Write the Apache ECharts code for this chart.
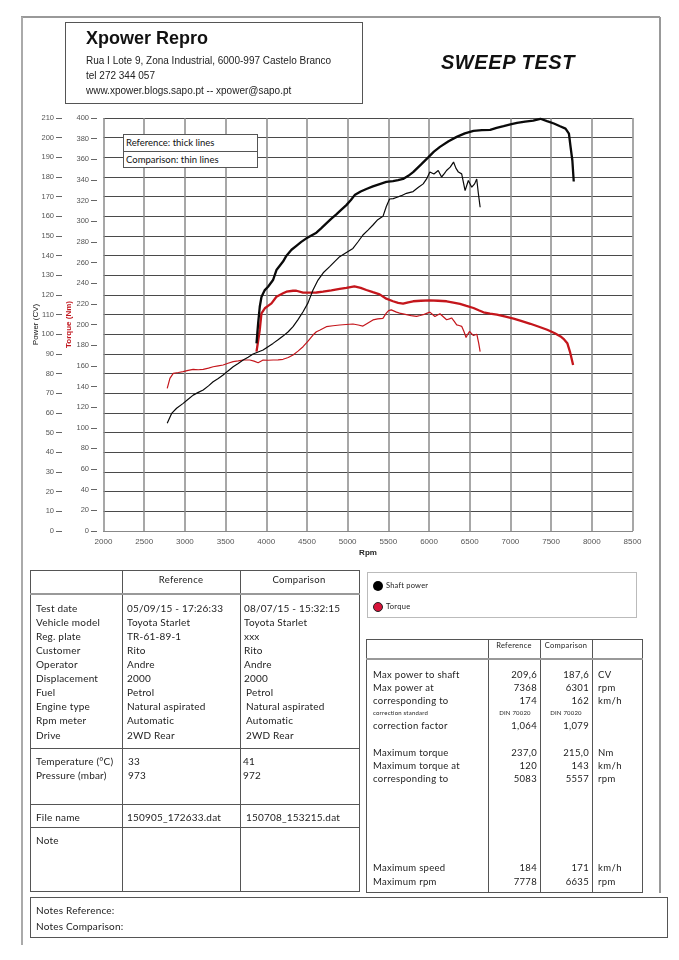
<!DOCTYPE html>
<html><head><meta charset="utf-8">
<script src="https://cdn.jsdelivr.net/npm/echarts@6/dist/echarts.min.js"></script>
<style>
html,body{margin:0;padding:0;background:#fff;}
#page{position:relative;width:679px;height:960px;overflow:hidden;font-family:Lato,"Liberation Sans",sans-serif;color:#222;}
#chart{position:absolute;left:0;top:0;width:679px;height:960px;}
.t{position:absolute;white-space:nowrap;line-height:12px;}
.l{position:absolute;background:#555;}
.box{position:absolute;border:1px solid #555;box-sizing:border-box;background:transparent;}
</style></head>
<body><div id="page"><div id="chart"></div></div>
<script>
// ---------- DATA ----------
const refPowerRpm = [3880,3900,3920,3941,3961,3982,4022,4083,4125,4206,4248,4310,4370,4430,4493,4555,4616,4677,4738,4800,4861,4923,4984,5040,5086,5160,5230,5310,5393,5475,5557,5620,5681,5745,5805,5900,5990,6060,6134,6240,6340,6440,6546,6650,6751,6830,6916,7000,7081,7180,7280,7368,7450,7534,7610,7677,7719,7740,7761,7778];
const refPower    = [95.4,105.6,114,119,120.8,122.5,124.2,127.6,132.7,137,140,143,145,147,148.8,150.3,151.7,154,156.4,158.8,161,163.4,165.7,168.3,170.8,172.6,173.9,175.2,176.4,177.5,177.9,178.4,179,180.6,182.5,186.3,190,192.9,195.3,198.2,200.4,202.2,203.5,203.8,204,205,205.9,206.8,207.5,208.2,208.7,209.6,208.4,207.2,205.8,204.6,202,195,188.4,177.7];

const cmpPowerRpm = [2783,2837,2898,2979,3040,3102,3165,3225,3290,3347,3410,3470,3530,3593,3655,3716,3777,3838,3900,3961,4022,4083,4145,4206,4270,4329,4390,4452,4513,4574,4636,4700,4779,4840,4902,4980,5065,5130,5188,5250,5311,5370,5434,5475,5515,5560,5599,5660,5722,5804,5870,5928,5970,6010,6060,6113,6154,6190,6215,6260,6301,6330,6361,6401,6443,6483,6525,6560,6586,6605,6628];
const cmpPower    = [54.8,59.8,62.4,64.9,67,69.1,70.5,71.7,73.8,75.9,77.6,79.3,81.4,83.5,85.2,86.9,88.4,90,91,92,93.7,95.4,97.2,99.1,101.3,103.9,107.5,111.5,116,122.5,127.6,131.3,134.4,137,139.5,141.5,143.7,147.2,150.5,153,155.6,158.3,160,165,168.8,169,169.6,170.5,171.7,172.6,174.8,176.5,179,182.5,181.5,183.3,180,181.8,183.3,185,187.6,184.5,182.5,181.6,173.1,178.2,174.8,176.5,179,172,164.6];

const refTorqueRpm = [3880,3900,3920,3941,3982,4022,4064,4125,4166,4206,4248,4329,4370,4452,4534,4616,4697,4800,4902,4984,5083,5160,5230,5310,5393,5475,5557,5620,5681,5745,5805,5900,6010,6110,6216,6300,6380,6460,6546,6610,6669,6750,6833,6940,7039,7140,7245,7350,7452,7540,7616,7660,7699,7731,7761,7770];
const refTorque    = [173.7,184,194.7,210.8,215.7,218,220.5,226.9,228.6,230.2,231.8,232.7,232.7,230.8,230.8,231,231.8,233,234.4,235.5,237,235.5,233.4,231.3,229.2,225,222.5,221,220.2,221.5,222.5,223,223.4,223,222.5,221.3,219.9,218,216,213.8,211.8,210.6,209.5,207.6,205.6,203.2,200.7,197.8,194.9,191.8,188.4,185.5,181.9,173.8,164,160.8];

const cmpTorqueRpm = [2783,2816,2857,2920,2979,3040,3102,3165,3225,3290,3347,3410,3470,3530,3593,3655,3716,3798,3850,3900,3961,4022,4083,4145,4206,4270,4329,4390,4452,4513,4574,4616,4656,4738,4820,4902,4980,5065,5130,5188,5250,5311,5370,5433,5475,5503,5536,5557,5600,5638,5680,5722,5780,5846,5890,5928,5970,6010,6040,6072,6100,6134,6175,6216,6250,6277,6310,6340,6370,6401,6430,6455,6475,6497,6520,6546,6587,6610,6628];
const cmpTorque    = [138.2,147.9,152.7,153.5,154.3,155.5,156.6,156.2,156.6,157.8,159.1,160,160.8,162.5,164,164.8,165.6,165.6,164.5,163,165.6,165.4,165.6,165.8,166.3,168,170.5,174.2,178.5,184,189.8,193,194.5,197.9,198.8,199.5,200,200.5,199.5,198.5,201.5,204.4,205.5,206,211,213.5,214.2,215,212,211,210.3,209.5,208.6,207.8,208.7,209.5,210.8,212,210,207.8,209,210.4,207.5,204.6,205.5,206.3,203,199.7,199,198.2,193,187.4,190.5,193.2,191.3,189.3,190.6,182,173.8];

// table texts
const infoLabels = ["Test date","Vehicle model","Reg. plate","Customer","Operator","Displacement","Fuel","Engine type","Rpm meter","Drive"];
const infoRef    = ["05/09/15 - 17:26:33","Toyota Starlet","TR-61-89-1","Rito","Andre","2000","Petrol","Natural aspirated","Automatic","2WD Rear"];
const infoCmp    = ["08/07/15 - 15:32:15","Toyota Starlet","xxx","Rito","Andre","2000","Petrol","Natural aspirated","Automatic","2WD Rear"];
const envLabels  = ["Temperature (°C)","Pressure (mbar)"];
const envRef     = ["33","973"];
const envCmp     = ["41","972"];
const fileRef = "150905_172633.dat", fileCmp = "150708_153215.dat";

const resLabels = ["Max power to shaft","Max power at","corresponding to","correction standard","correction factor","Maximum torque","Maximum torque at","corresponding to","Maximum speed","Maximum rpm"];
const resRef    = ["209,6","7368","174","DIN 70020","1,064","237,0","120","5083","184","7778"];
const resCmp    = ["187,6","6301","162","DIN 70020","1,079","215,0","143","5557","171","6635"];
const resUnits  = ["CV","rpm","km/h","","","Nm","km/h","rpm","km/h","rpm"];

// ---------- HTML helpers ----------
const page = document.getElementById('page');
function el(cls, css, text){ const d=document.createElement('div'); d.className=cls; Object.assign(d.style, css); if(text!=null) d.textContent=text; page.appendChild(d); return d; }
function txt(x,y,s,o={}){
  const css={left:x+'px', top:(y-6)+'px', fontSize:(o.size||10)+'px'};
  if(o.font) css.fontFamily=o.font; if(o.weight) css.fontWeight=o.weight; if(o.style) css.fontStyle=o.style;
  if(o.color) css.color=o.color; if(o.ls!=null) css.letterSpacing=o.ls+'px';
  if(o.align==='center') css.transform='translateX(-50%)';
  if(o.align==='right') css.transform='translateX(-100%)';
  return el('t',css,s);
}
function hl(x1,x2,y,w=1,c='#555'){ el('l',{left:x1+'px',top:(y-w/2)+'px',width:(x2-x1)+'px',height:w+'px',background:c}); }
function vl(x,y1,y2,w=1,c='#555'){ el('l',{left:(x-w/2)+'px',top:y1+'px',width:w+'px',height:(y2-y1)+'px',background:c}); }
function box(x1,y1,x2,y2,c='#555',w=1,bg){ const b=el('box',{left:x1+'px',top:y1+'px',width:(x2-x1)+'px',height:(y2-y1)+'px',borderColor:c,borderWidth:w+'px'}); if(bg) b.style.background=bg; return b; }

// ---------- CHART ----------
const pairs = (xs, ys) => xs.map((x,i)=>[x, ys[i]]);
const lbl = {fontSize:8, color:'#555', fontFamily:'Liberation Sans', formatter:(v)=>String(v)};
const ylbl = Object.assign({}, lbl, {fontSize:7.5});
const chart = echarts.init(document.getElementById('chart'), null, {renderer:'canvas'});
chart.setOption({
  animation:false,
  grid:{left:103.5, top:118, width:529, height:413},
  xAxis:{type:'value', min:2000, max:8500, interval:500,
    axisLine:{show:true, lineStyle:{color:'#888'}}, axisTick:{show:false},
    axisLabel:Object.assign({margin:7}, lbl),
    splitLine:{show:true, lineStyle:{color:'#8a8a8a', width:1.5}},
    name:'Rpm', nameLocation:'middle', nameGap:18,
    nameTextStyle:{fontSize:8, fontWeight:'bold', color:'#222', fontFamily:'Liberation Sans'}},
  yAxis:[
    {type:'value', min:0, max:210, interval:10, position:'left', offset:41.5,
     axisLine:{show:false}, axisTick:{show:true, length:6, lineStyle:{color:'#666'}},
     axisLabel:Object.assign({margin:8}, ylbl),
     splitLine:{show:true, lineStyle:{color:'#4a4a4a', width:1}},
     name:'Power (CV)', nameLocation:'middle', nameGap:22, nameMoveOverlap:false,
     nameTextStyle:{fontSize:8, color:'#111', fontFamily:'Liberation Sans'}},
    {type:'value', min:0, max:400, interval:20, position:'left', offset:6.5,
     axisLine:{show:false}, axisTick:{show:true, length:6, lineStyle:{color:'#666'}},
     axisLabel:Object.assign({margin:8}, ylbl),
     splitLine:{show:false},
     name:'Torque (Nm)', nameLocation:'middle', nameGap:24, nameMoveOverlap:false,
     nameTextStyle:{fontSize:8, color:'#c0141c', fontWeight:'bold', fontFamily:'Liberation Sans'}}
  ],
  series:[
    {name:'Shaft power ref', type:'line', yAxisIndex:0, showSymbol:false, data:pairs(refPowerRpm, refPower), lineStyle:{color:'#0a0a0a', width:2.3}, z:5},
    {name:'Shaft power cmp', type:'line', yAxisIndex:0, showSymbol:false, data:pairs(cmpPowerRpm, cmpPower), lineStyle:{color:'#0a0a0a', width:1.2}, z:5},
    {name:'Torque ref', type:'line', yAxisIndex:1, showSymbol:false, data:pairs(refTorqueRpm, refTorque), lineStyle:{color:'#c4161c', width:2.3}, z:4},
    {name:'Torque cmp', type:'line', yAxisIndex:1, showSymbol:false, data:pairs(cmpTorqueRpm, cmpTorque), lineStyle:{color:'#c4161c', width:1.2}, z:4}
  ]
});

// ---------- PAGE FRAME & HEADER ----------
hl(21,660,17,1.5,'#999');
vl(22,17,945,2,'#aaa');
vl(660,17,893,1.5,'#999');

box(65,22,363,104,'#555',1);
txt(86,38,'Xpower Repro',{size:18,weight:'bold',font:'Liberation Sans',color:'#111'});
txt(86,61,'Rua I Lote 9, Zona Industrial, 6000-997 Castelo Branco',{size:10,font:'Liberation Sans',color:'#222'});
txt(86,76,'tel 272 344 057',{size:10,font:'Liberation Sans',color:'#222'});
txt(86,91,'www.xpower.blogs.sapo.pt  -- xpower@sapo.pt',{size:10,font:'Liberation Sans',color:'#222'});
txt(508,62,'SWEEP TEST',{size:20,weight:'bold',style:'italic',font:'Liberation Sans',color:'#111',align:'center',ls:0.6});

// legend box inside plot
box(123,134,258,168,'#555',1,'#fff');
hl(123,258,151,1,'#555');
txt(126,143,'Reference: thick lines',{size:9.5,color:'#111'});
txt(126,159.5,'Comparison: thin lines',{size:9.5,color:'#111'});

// ---------- LEFT TABLE ----------
box(30,570,360,892,'#555',1);
vl(122.5,570,892,1,'#555');
vl(240,570,892,1,'#555');
hl(30,360,594,2.5,'#999');
hl(30,360,748,1,'#555');
hl(30,360,804,1,'#555');
hl(30,360,827,1,'#555');
txt(181,580,'Reference',{size:9.5,align:'center',ls:0.3});
txt(299,580,'Comparison',{size:9.5,align:'center',ls:0.3});
const infoY = [608,622,636,650,664,677.5,691.5,706,720,735];
infoLabels.forEach((s,i)=>{
  txt(36,infoY[i],s,{size:10,ls:0.2});
  txt(127,infoY[i],infoRef[i],{size:10,ls:0.2});
  txt(i>=6?246:244,infoY[i],infoCmp[i],{size:10,ls:0.2});
});
const envY=[761,775];
envLabels.forEach((s,i)=>{
  txt(36,envY[i],s,{size:10,ls:0.2});
  txt(128,envY[i],envRef[i],{size:10,ls:0.2});
  txt(243,envY[i],envCmp[i],{size:10,ls:0.2});
});
txt(36,817,'File name',{size:10,ls:0.2});
txt(127,817,fileRef,{size:10,ls:0.2});
txt(246,817,fileCmp,{size:10,ls:0.2});
txt(36,840,'Note',{size:10,ls:0.2});

// notes box
box(30,897,668,938,'#555',1);
txt(36,910,'Notes Reference:',{size:10,ls:0.2});
txt(36,926,'Notes Comparison:',{size:10,ls:0.2});

// ---------- RIGHT LEGEND ----------
box(367,572,637,618,'#bbb',1);
el('l',{left:'373px',top:'581px',width:'10px',height:'10px',borderRadius:'50%',background:'#000'});
el('l',{left:'373px',top:'602px',width:'10px',height:'10px',borderRadius:'50%',background:'#d8143a',boxSizing:'border-box',border:'1.3px solid #222'});
txt(386,586,'Shaft power',{size:7.5,ls:0.2});
txt(386,607,'Torque',{size:7.5,ls:0.3});

// ---------- RIGHT TABLE ----------
box(366,639,643,893,'#555',1);
vl(488.5,639,893,1,'#555');
vl(540,639,893,1,'#555');
vl(592,639,893,1,'#555');
hl(366,643,659,2.5,'#999');
txt(514,646,'Reference',{size:7.5,align:'center',ls:0.3});
txt(566,646,'Comparison',{size:7.5,align:'center',ls:0.3});
const resY=[675,688,701,713,726,753,766,779,868,882];
resLabels.forEach((s,i)=>{
  const small = (i===3);
  txt(373,resY[i],s,{size:small?6:9.5,ls:small?0.2:0.3});
  if(small){
    txt(515,resY[i],resRef[i],{size:6,align:'center',ls:0.2});
    txt(566,resY[i],resCmp[i],{size:6,align:'center',ls:0.2});
  } else {
    txt(537,resY[i],resRef[i],{size:9.5,align:'right',ls:0.3});
    txt(589,resY[i],resCmp[i],{size:9.5,align:'right',ls:0.3});
  }
  if(resUnits[i]) txt(598,resY[i],resUnits[i],{size:9.5,ls:0.4});
});
</script>
</body></html>
